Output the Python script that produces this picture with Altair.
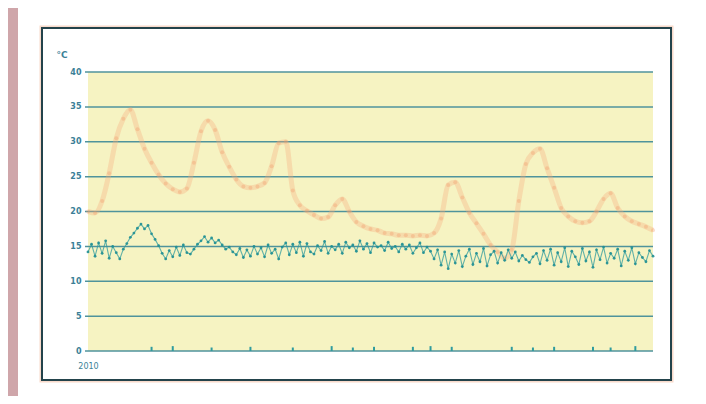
import altair as alt
import pandas as pd

# ---- data ----
teal_values = [
    14.2, 15.3, 13.6, 15.5, 14.0, 15.8, 13.3, 15.0, 14.1, 13.2,
    14.6, 15.4, 16.3, 16.9, 17.6, 18.2, 17.5, 18.0, 16.8, 16.0,
    15.1, 14.0, 13.2, 14.4, 13.5, 14.9, 13.7, 15.2, 14.1, 13.9,
    14.6, 15.3, 15.8, 16.4, 15.6, 16.2, 15.5, 15.9, 15.2, 14.6,
    14.9, 14.2, 13.8, 14.7, 13.4, 14.5, 13.6, 15.0, 13.9, 14.8,
    13.5, 15.2, 14.0, 14.6, 13.2, 14.9, 15.5, 13.8, 15.3, 14.1,
    15.6, 13.6, 15.4, 14.2, 13.9, 15.1, 14.4, 15.7, 14.0, 15.0,
    14.5, 15.3, 14.0, 15.6, 14.8, 15.2, 14.3, 15.8, 14.6, 15.4,
    14.1, 15.5, 14.9, 15.1, 14.4, 15.6, 14.7, 15.0, 14.2, 15.3,
    14.6, 15.2, 14.0, 14.8, 15.5, 14.1, 14.9, 14.3, 13.2, 14.5,
    12.3, 14.2, 11.8, 13.9, 12.6, 14.4, 12.1, 13.6, 14.6, 12.4,
    14.0, 12.8, 14.7, 12.2, 13.8, 14.3, 12.6, 14.1, 13.0, 14.5,
    13.3, 14.2, 12.9, 13.7, 13.1, 12.7, 13.5, 14.0, 12.5, 14.4,
    13.0, 14.6, 12.3, 14.1, 12.8, 14.8, 12.1, 14.3, 13.5, 12.4,
    14.7, 12.9, 14.2, 12.0, 14.5, 13.1, 14.9, 12.6, 14.0, 13.3,
    14.6, 12.2, 14.3, 13.0, 14.8, 12.5, 14.1, 13.4, 12.8, 14.4, 13.6,
]
teal_days = list(range(len(teal_values)))

orange_values = [
    20.0, 19.8, 21.5, 25.5, 30.5, 33.3, 34.6, 31.8, 29.0, 27.0,
    25.3, 24.0, 23.2, 22.8, 23.3, 27.0, 31.5, 33.0, 31.7, 28.5,
    26.4, 24.6, 23.6, 23.4, 23.6, 24.1, 26.5, 29.8, 30.0, 23.0,
    20.9, 20.1, 19.5, 19.0, 19.2, 20.9, 21.8, 20.0, 18.5, 17.9,
    17.5, 17.3, 16.9, 16.8, 16.6, 16.6, 16.5, 16.6, 16.5, 16.9,
    19.0, 23.8, 24.2, 22.0, 19.8, 18.3, 16.8, 15.2, 14.2, 13.3,
    14.5, 21.5, 26.8, 28.4, 29.0, 26.2, 23.4, 20.5, 19.3, 18.6,
    18.4, 18.6, 20.0, 21.8, 22.6, 20.5, 19.3, 18.6, 18.2, 17.8, 17.3,
]
orange_days = [2 * i for i in range(len(orange_values))]

rain_days = [18, 24, 35, 46, 58, 69, 75, 81, 92, 97, 103, 120, 126, 132, 143, 148, 155]
rain_values = [0.6, 0.7, 0.5, 0.6, 0.5, 0.7, 0.5, 0.6, 0.6, 0.7, 0.6, 0.6, 0.5, 0.6, 0.6, 0.5, 0.7]

grid_values = [0, 5, 10, 15, 20, 25, 30, 35, 40]
x_label = "2010"
unit_label = "°C"

# ---- styling ----
W, H = 565, 279
TEAL = "#2f9b9e"
LABEL = "#3b7f97"

teal_df = pd.DataFrame({"day": teal_days, "t": teal_values})
orange_df = pd.DataFrame({"day": orange_days, "t": orange_values})
rain_df = pd.DataFrame({"day": rain_days, "r": rain_values})
grid_df = pd.DataFrame({"g": grid_values})
one = pd.DataFrame({"a": [0]})

xs = alt.Scale(domain=[0, 160], nice=False, zero=False)
ys = alt.Scale(domain=[0, 40], nice=False)

x_axis = alt.Axis(values=[0], labelExpr="'" + x_label + "'", title=None, domain=False,
                  ticks=False, grid=False, labelColor=LABEL, labelFontSize=8,
                  labelFont="DejaVu Sans", labelPadding=11, labelAlign="center",
                  labelFlush=False)
y_axis = alt.Axis(values=grid_values, title=None, domain=False, ticks=False, grid=False,
                  labelColor=LABEL, labelFontSize=8, labelFont="DejaVu Sans",
                  labelFontWeight="bold", labelPadding=7)

X = alt.X("day:Q", scale=xs, axis=x_axis)

pink_strip = alt.Chart(one).mark_rect(fill="#cfa6aa").encode(
    x=alt.value(-80), x2=alt.value(-70), y=alt.value(-64), y2=alt.value(324))
frame_glow = alt.Chart(one).mark_rect(fill=None, stroke="#f4c2a8", strokeWidth=3, opacity=0.6).encode(
    x=alt.value(-47), x2=alt.value(584), y=alt.value(-45), y2=alt.value(309))
frame = alt.Chart(one).mark_rect(fill=None, stroke="#23434b", strokeWidth=2).encode(
    x=alt.value(-46), x2=alt.value(583), y=alt.value(-44), y2=alt.value(308))

grid = alt.Chart(grid_df).mark_rule(color="#4f939c", strokeWidth=1.5).encode(
    x=alt.value(-3), x2=alt.value(W),
    y=alt.Y("g:Q", scale=ys, axis=y_axis),
)

orange_line = alt.Chart(orange_df).mark_line(color="#f5a97c", strokeWidth=5, opacity=0.33,
                                             interpolate="monotone").encode(
    x=X, y=alt.Y("t:Q", scale=ys, axis=y_axis),
)
orange_pts = alt.Chart(orange_df).mark_circle(color="#f29a6a", size=16, opacity=0.35).encode(
    x=X, y=alt.Y("t:Q", scale=ys, axis=y_axis),
)

teal_line = alt.Chart(teal_df).mark_line(color=TEAL, strokeWidth=1.1, opacity=0.75).encode(
    x=X, y=alt.Y("t:Q", scale=ys, axis=y_axis),
)
teal_pts = alt.Chart(teal_df).mark_circle(color="#1f8f93", size=8, opacity=0.9).encode(
    x=X, y=alt.Y("t:Q", scale=ys, axis=y_axis),
)

rain = alt.Chart(rain_df).mark_rule(color=TEAL, strokeWidth=2).encode(
    x=X, y=alt.Y("r:Q", scale=ys, axis=y_axis), y2=alt.datum(0),
)

unit = alt.Chart(one).mark_text(text=unit_label, color=LABEL, fontSize=9, font="DejaVu Sans",
                                fontWeight="bold").encode(
    x=alt.value(-26), y=alt.value(-17))

chart = alt.layer(
    pink_strip, frame_glow, frame, grid, orange_line, orange_pts, teal_line, teal_pts, rain, unit
).properties(
    width=W, height=H,
    padding={"left": 80, "top": 64, "right": 45, "bottom": 45},
    autosize=alt.AutoSizeParams(type="none"),
    background="white",
).configure_view(stroke=None, fill="#f6f3c2")

chart.save("out.html", embed_options={"renderer": "svg", "actions": False})
